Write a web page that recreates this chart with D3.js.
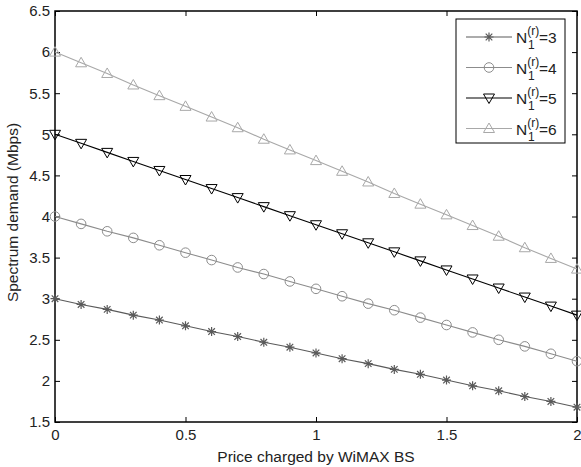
<!DOCTYPE html>
<html>
<head>
<meta charset="utf-8">
<script src="https://cdn.jsdelivr.net/npm/d3@7"></script>
<style>
  body { margin: 0; background: #fff; }
  text { font-family: "Liberation Sans", Arial, sans-serif; }
</style>
</head>
<body>
<svg id="chart" width="581" height="467"></svg>
<script>
const price = [0, 0.1, 0.2, 0.3, 0.4, 0.5, 0.6, 0.7, 0.8, 0.9, 1.0,
               1.1, 1.2, 1.3, 1.4, 1.5, 1.6, 1.7, 1.8, 1.9, 2.0];

const demandN3 = [3.00, 2.93, 2.87, 2.80, 2.74, 2.67, 2.60, 2.54, 2.47, 2.41, 2.34,
                  2.27, 2.21, 2.14, 2.08, 2.01, 1.94, 1.88, 1.81, 1.75, 1.68];
const demandN4 = [4.00, 3.91, 3.82, 3.74, 3.65, 3.56, 3.47, 3.38, 3.30, 3.21, 3.12,
                  3.03, 2.94, 2.86, 2.77, 2.68, 2.59, 2.50, 2.42, 2.33, 2.24];
const demandN5 = [5.00, 4.89, 4.78, 4.67, 4.56, 4.45, 4.34, 4.23, 4.12, 4.01, 3.90,
                  3.79, 3.68, 3.57, 3.46, 3.35, 3.24, 3.13, 3.02, 2.91, 2.80];
const demandN6 = [6.00, 5.87, 5.74, 5.60, 5.47, 5.34, 5.21, 5.08, 4.94, 4.81, 4.68,
                  4.55, 4.42, 4.28, 4.15, 4.02, 3.89, 3.76, 3.62, 3.49, 3.36];

const seriesNames = ["3", "4", "5", "6"];
const xTicks = [0, 0.5, 1, 1.5, 2];
const yTicks = [1.5, 2, 2.5, 3, 3.5, 4, 4.5, 5, 5.5, 6, 6.5];

const series = [
  {name: seriesNames[0], values: demandN3, color: "#5a5a5a", marker: "star"},
  {name: seriesNames[1], values: demandN4, color: "#8c8c8c", marker: "circle"},
  {name: seriesNames[2], values: demandN5, color: "#000000", marker: "down"},
  {name: seriesNames[3], values: demandN6, color: "#a8a8a8", marker: "up"}
];

const margin = {left: 55, top: 11, right: 4, bottom: 45};
const width = 581, height = 467;
const svg = d3.select("#chart");

const x = d3.scaleLinear().domain([0, 2]).range([margin.left, width - margin.right]);
const y = d3.scaleLinear().domain([1.5, 6.5]).range([height - margin.bottom, margin.top]);

// marker drawing
function drawMarker(g, type, color) {
  if (type == "circle") {
    g.append("circle").attr("r", 4.8).attr("fill", "none").attr("stroke", color);
  } else if (type == "down") {
    g.append("path").attr("d", "M-5.5,-4 L5.5,-4 L0,5.5 Z").attr("fill", "none").attr("stroke", color);
  } else if (type == "up") {
    g.append("path").attr("d", "M-5.5,4 L5.5,4 L0,-5.5 Z").attr("fill", "none").attr("stroke", color);
  } else {
    g.append("path")
      .attr("d", "M-4.5,0 L4.5,0 M0,-4.5 L0,4.5 M-3.3,-3.3 L3.3,3.3 M-3.3,3.3 L3.3,-3.3")
      .attr("stroke", color).attr("stroke-width", 1.2);
  }
}

// axes (matlab style ticks inward, box)
const xAxisB = d3.axisBottom(x).tickValues(xTicks).tickSize(-5).tickPadding(7).tickFormat(d3.format("~g"));
const xAxisT = d3.axisTop(x).tickValues(xTicks).tickSize(-5).tickFormat("");
const yAxisL = d3.axisLeft(y).tickValues(yTicks).tickSize(-5).tickPadding(5).tickFormat(d3.format("~g"));
const yAxisR = d3.axisRight(y).tickValues(yTicks).tickSize(-5).tickFormat("");

function styleAxis(g) {
  g.select(".domain").remove();
  g.selectAll("line").attr("stroke", "#000");
  g.selectAll("text").attr("font-size", 15).attr("fill", "#222")
    .attr("font-family", "'Liberation Sans', Arial, sans-serif");
}

svg.append("g").attr("transform", `translate(0,${y(1.5)})`).call(xAxisB).call(styleAxis);
svg.append("g").attr("transform", `translate(0,${y(6.5)})`).call(xAxisT).call(styleAxis);
svg.append("g").attr("transform", `translate(${x(0)},0)`).call(yAxisL).call(styleAxis);
svg.append("g").attr("transform", `translate(${x(2)},0)`).call(yAxisR).call(styleAxis);

svg.append("rect")
  .attr("x", x(0)).attr("y", y(6.5))
  .attr("width", x(2) - x(0)).attr("height", y(1.5) - y(6.5))
  .attr("fill", "none").attr("stroke", "#000").attr("stroke-width", 1.5);

const line = d3.line().x((d, i) => x(price[i])).y(d => y(d));

series.forEach(s => {
  svg.append("path")
    .attr("d", line(s.values))
    .attr("fill", "none")
    .attr("stroke", s.color)
    .attr("stroke-width", 1.1);
  s.values.forEach((v, i) => {
    const g = svg.append("g").attr("transform", `translate(${x(price[i])},${y(v)})`);
    drawMarker(g, s.marker, s.color);
  });
});

// labels
svg.append("text")
  .attr("x", (x(0) + x(2)) / 2).attr("y", 462)
  .attr("text-anchor", "middle").attr("font-size", 15.5).attr("fill", "#222")
  .text("Price charged by WiMAX BS");

svg.append("text")
  .attr("transform", `translate(18,${(y(1.5) + y(6.5)) / 2 - 4}) rotate(-90)`)
  .attr("text-anchor", "middle").attr("font-size", 15.5).attr("fill", "#222")
  .text("Spectrum demand (Mbps)");

// legend
const legend = svg.append("g");
legend.append("rect")
  .attr("x", 456).attr("y", 19).attr("width", 109).attr("height", 124)
  .attr("fill", "#fff").attr("stroke", "#000").attr("stroke-width", 1);

series.forEach((s, i) => {
  const ly = 37 + i * 30.5;
  legend.append("line")
    .attr("x1", 466).attr("x2", 512).attr("y1", ly).attr("y2", ly)
    .attr("stroke", s.color).attr("stroke-width", 1.1);
  const g = legend.append("g").attr("transform", `translate(489,${ly})`);
  drawMarker(g, s.marker, s.color);
  const t = legend.append("text")
    .attr("x", 516).attr("y", ly + 6)
    .attr("font-size", 15.5).attr("fill", "#222");
  t.append("tspan").text("N");
  t.append("tspan").attr("font-size", 12).attr("dy", -8).text("(r)");
  t.append("tspan").attr("font-size", 12).attr("x", 528).attr("dy", 14).text("1");
  t.append("tspan").attr("x", 539).attr("dy", -6).text("=" + s.name);
});
</script>
</body>
</html>
